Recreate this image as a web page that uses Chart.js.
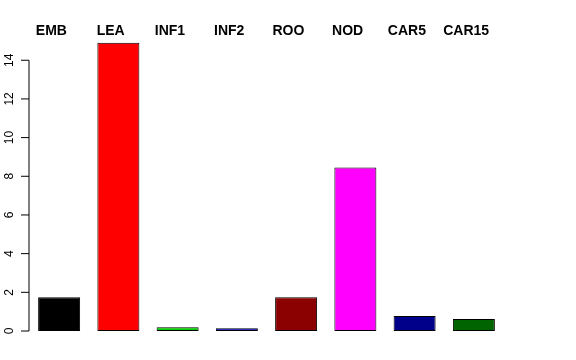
<!DOCTYPE html>
<html>
<head>
<meta charset="utf-8">
<script src="https://cdn.jsdelivr.net/npm/chart.js@4/dist/chart.umd.min.js"></script>
<style>
  html, body { margin: 0; padding: 0; background: #fff; }
  #wrap { width: 576px; height: 360px; }
</style>
</head>
<body>
<div id="wrap"><canvas id="myChart" width="576" height="360"></canvas></div>
<script>
// data
var categories = ["EMB", "LEA", "INF1", "INF2", "ROO", "NOD", "CAR5", "CAR15"];
var values = [1.74, 14.9, 0.19, 0.14, 1.74, 8.46, 0.78, 0.62];
var barColors = ["#000000", "#ff0000", "#00cd00", "#0000cd", "#8b0000", "#ff00ff", "#00008b", "#006400"];
var yTicks = [0, 2, 4, 6, 8, 10, 12, 14];

// R-style left axis with rotated labels, plus bold names on top
var rAxis = {
    id: 'rAxis',
    afterDraw: function(chart) {
        var c = chart.ctx;
        var y = chart.scales.y;
        var x = chart.scales.x;
        var ax = 29;
        c.save();
        c.strokeStyle = '#000';
        c.lineWidth = 1;
        c.beginPath();
        c.moveTo(ax, y.getPixelForValue(yTicks[0]));
        c.lineTo(ax, y.getPixelForValue(yTicks[yTicks.length - 1]));
        yTicks.forEach(function(t) {
            var py = y.getPixelForValue(t);
            c.moveTo(ax, py);
            c.lineTo(ax - 8, py);
        });
        c.stroke();

        c.fillStyle = '#000';
        c.font = '12px "Liberation Sans", Arial, sans-serif';
        c.textAlign = 'center';
        c.textBaseline = 'alphabetic';
        yTicks.forEach(function(t) {
            var py = y.getPixelForValue(t);
            c.save();
            c.translate(13, py);
            c.rotate(-Math.PI / 2);
            c.fillText(String(t), 0, 0);
            c.restore();
        });

        c.font = 'bold 14px "Liberation Sans", Arial, sans-serif';
        categories.forEach(function(name, i) {
            c.fillText(name, x.getPixelForValue(i) - 7.7, 35);
        });
        c.restore();
    }
};

var ctx = document.getElementById("myChart").getContext('2d');
var myChart = new Chart(ctx, {
    type: 'bar',
    data: {
        labels: categories,
        datasets: [{
            data: values,
            backgroundColor: barColors,
            borderColor: '#000000',
            borderWidth: 1,
            borderSkipped: false,
            categoryPercentage: 1,
            barPercentage: 0.709
        }]
    },
    options: {
        responsive: false,
        animation: false,
        layout: {
            padding: { left: 29.5, right: 72.5, top: 32, bottom: 29 }
        },
        plugins: {
            legend: { display: false },
            tooltip: { enabled: false }
        },
        scales: {
            x: { display: false, offset: true },
            y: { display: false, min: 0, max: 15.46 }
        }
    },
    plugins: [rAxis]
});
</script>
</body>
</html>
